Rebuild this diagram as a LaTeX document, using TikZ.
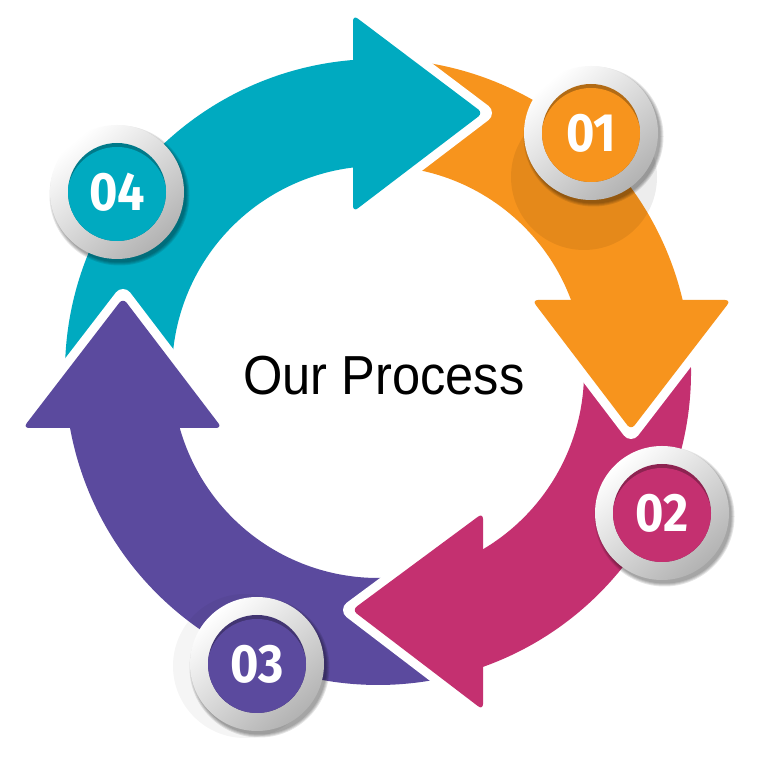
\documentclass[tikz,border=0pt]{standalone}
\usepackage{fontspec}
\setmainfont{Liberation Sans}
\newfontfamily\numfont[FakeStretch=0.9]{Fira Sans}
\definecolor{cteal}{RGB}{0,170,192}
\definecolor{corange}{RGB}{247,148,29}
\definecolor{cmagenta}{RGB}{196,48,112}
\definecolor{cpurple}{RGB}{91,74,158}
\tikzset{
  headout/.style={draw=white, line width=18pt, line join=round, line cap=round},
  headfill/.style={fill=#1, rounded corners=6pt},
  numtext/.style={text=white, font=\numfont\bfseries\fontsize{54}{54}\selectfont, inner sep=0pt},
}
\newcommand\bodyarc[3]{% color, start angle, end angle
  \fill[#1, shift={(C)}] (#2:313) arc[start angle=#2, end angle=#3, radius=313]
    -- (#3:206) arc[start angle=#3, end angle=#2, radius=206] -- cycle;}
\newcommand\ahead[4]{% color, corner, tip, corner
  \draw[headout] #2 -- #3 -- #4;
  \fill[headfill=#1] #2 -- #3 -- #4 -- cycle;}
\newcommand\badge[4]{% name, position, color, text
  \begin{scope}[shift={#2}]
    \foreach \k in {0,1,2,3} \fill[black, opacity=0.1] (2.5,-3.5) circle[radius=67+\k];
    \shade[top color=white, bottom color=black!30, shading angle=40] (0,0) circle[radius=67];
    \fill[#3!72!black] (0,0) circle[radius=49];
    \begin{scope}
      \clip (0,0) circle[radius=49];
      \fill[#3] (0,-5) circle[radius=50];
    \end{scope}
    \node[numtext] (#1) at (0,0) {#4};
  \end{scope}}
\begin{document}
\begin{tikzpicture}[x=1pt,y=1pt]
\fill[white] (0,0) rectangle (768,762);
\useasboundingbox (0,0) rectangle (768,762);
\coordinate (C) at (378,390);
% bodies
\bodyarc{cteal}{186}{92}
\bodyarc{corange}{87}{10}
\bodyarc{cmagenta}{6}{-76}
\bodyarc{cpurple}{282.5}{185}
% heads
\ahead{cteal}{(353,747)}{(483,649)}{(353,550)}
\ahead{corange}{(532,462)}{(631,332)}{(731,462)}
\ahead{cmagenta}{(483,249)}{(352,152)}{(483,52)}
\ahead{cpurple}{(23,334)}{(123,464)}{(222,334)}
% soft shadows
\fill[black, opacity=0.07] (584,585) circle[radius=73];
\fill[black, opacity=0.04] (245,96) circle[radius=72];
% badges
\badge{b1}{(591,629)}{corange}{01}
\badge{b2}{(662,249)}{cmagenta}{02}
\badge{b3}{(257,98)}{cpurple}{03}
\badge{b4}{(117,570)}{cteal}{04}
% title
\node[font=\fontsize{55}{55}\selectfont, anchor=base, inner sep=0pt] (title) at (384,367) {\scalebox{0.92}[1]{Our Process}};
\end{tikzpicture}
\end{document}
